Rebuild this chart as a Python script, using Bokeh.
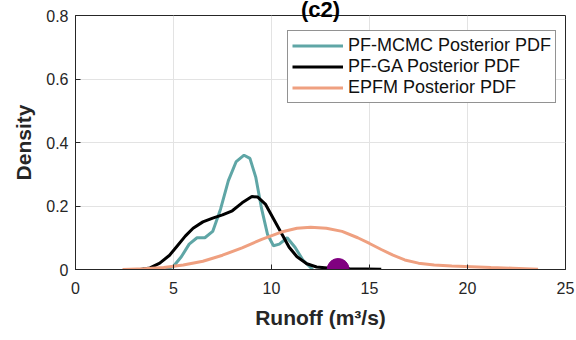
from bokeh.plotting import figure
from bokeh.models import Legend, LegendItem, Title, FixedTicker
from bokeh.embed import file_html
from bokeh.resources import INLINE

# Data
mcmc_x = [4.6, 5.0, 5.4, 5.8, 6.2, 6.6, 7.0, 7.4, 7.8, 8.2, 8.6, 8.9, 9.2, 9.5, 9.8, 10.1, 10.4, 10.8, 11.2, 11.6, 12.1]
mcmc_y = [0, 0.01, 0.04, 0.08, 0.10, 0.10, 0.12, 0.19, 0.28, 0.34, 0.36, 0.35, 0.29, 0.19, 0.11, 0.075, 0.08, 0.10, 0.07, 0.03, 0]

ga_x = [3.3, 3.8, 4.3, 4.8, 5.2, 5.6, 6.0, 6.5, 7.0, 7.5, 8.0, 8.5, 9.0, 9.3, 9.7, 10.1, 10.5, 10.9, 11.3, 11.8, 12.3, 13.0, 14.0, 15.6]
ga_y = [0, 0.005, 0.02, 0.045, 0.075, 0.105, 0.13, 0.15, 0.162, 0.172, 0.185, 0.21, 0.23, 0.228, 0.205, 0.16, 0.115, 0.07, 0.04, 0.018, 0.008, 0.004, 0.002, 0.001]

epfm_x = [2.4, 3.5, 4.5, 5.5, 6.5, 7.5, 8.5, 9.5, 10.5, 11.3, 12.0, 12.8, 13.6, 14.4, 15.0, 15.6, 16.2, 16.8, 17.5, 18.3, 19.2, 20.2, 21.2, 22.3, 23.6]
epfm_y = [0, 0.002, 0.006, 0.014, 0.026, 0.045, 0.068, 0.095, 0.118, 0.13, 0.133, 0.13, 0.12, 0.1, 0.082, 0.063, 0.045, 0.03, 0.02, 0.014, 0.011, 0.009, 0.006, 0.004, 0.001]

obs_x = [13.4]
obs_y = [0.0]

x_ticks = [0, 5, 10, 15, 20, 25]
y_ticks = [0, 0.2, 0.4, 0.6, 0.8]

FONT = "Liberation Sans"
TICK_COLOR = "#262626"

p = figure(width=576, height=340, output_backend="svg", toolbar_location=None,
           x_range=(0, 25), y_range=(0, 0.8),
           min_border_left=75, min_border_right=11, min_border_top=14, min_border_bottom=71)
p.background_fill_color = "white"
p.border_fill_color = "white"
p.outline_line_color = TICK_COLOR
p.outline_line_width = 1

for ax, ticks in ((p.xaxis[0], x_ticks), (p.yaxis[0], y_ticks)):
    ax.ticker = FixedTicker(ticks=ticks)
    ax.major_label_text_font = FONT
    ax.major_label_text_font_size = "16px"
    ax.major_label_text_color = TICK_COLOR
    ax.axis_line_color = TICK_COLOR
    ax.major_tick_line_color = TICK_COLOR
    ax.major_tick_in = 5
    ax.major_tick_out = 0
    ax.minor_tick_line_color = None
    ax.axis_label_text_font = FONT
    ax.axis_label_text_font_size = "21px"
    ax.axis_label_text_font_style = "bold"
    ax.axis_label_text_color = TICK_COLOR

p.xaxis.axis_label = "Runoff (m\u00b3/s)"
p.yaxis.axis_label = "Density"
p.xaxis.major_label_standoff = 12
p.xaxis.axis_label_standoff = 9
p.yaxis.major_label_standoff = 7
p.yaxis.axis_label_standoff = 8

p.grid.grid_line_color = "#e3e3e3"
p.xgrid.ticker = FixedTicker(ticks=x_ticks)
p.ygrid.ticker = FixedTicker(ticks=y_ticks)

r1 = p.line(mcmc_x, mcmc_y, line_color="#5FA6A6", line_width=3)
r2 = p.line(ga_x, ga_y, line_color="black", line_width=3)
r3 = p.line(epfm_x, epfm_y, line_color="#EFA080", line_width=3)
p.scatter(obs_x, obs_y, size=22, marker="circle", fill_color="#800080", line_color="#800080")

legend = Legend(items=[
    LegendItem(label="PF-MCMC Posterior PDF", renderers=[r1]),
    LegendItem(label="PF-GA Posterior PDF", renderers=[r2]),
    LegendItem(label="EPFM Posterior PDF", renderers=[r3]),
], location=(212, 166))
legend.label_text_font = FONT
legend.label_text_font_size = "18px"
legend.label_text_color = "#111111"
legend.glyph_width = 51
legend.label_standoff = 5
legend.spacing = 0
legend.label_height = 21
legend.glyph_height = 21
legend.padding = 4
legend.margin = 0
legend.border_line_color = TICK_COLOR
legend.border_line_width = 1
legend.background_fill_alpha = 1
p.add_layout(legend)

title = Title(text="(c2)", align="center", text_font=FONT, text_font_size="22px",
              text_font_style="bold", text_color="black", standoff=-12)
p.add_layout(title, "above")

open("out.html", "w").write(file_html(p, INLINE))
